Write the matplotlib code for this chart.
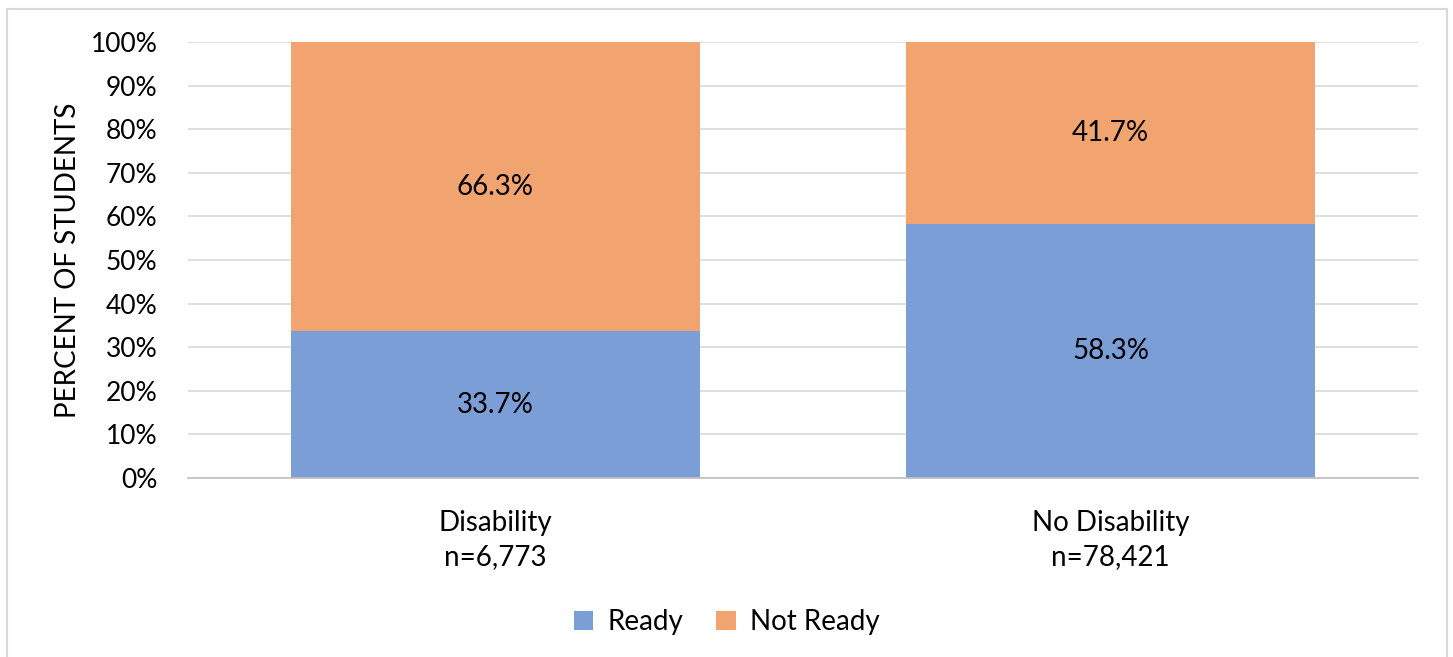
import matplotlib.pyplot as plt
from matplotlib.patches import Rectangle
import numpy as np

plt.rcParams['font.family'] = ['Lato', 'DejaVu Sans']

categories = ['Disability\nn=6,773', 'No Disability\nn=78,421']
ready = [33.7, 58.3]
not_ready = [66.3, 41.7]
blue = '#7B9ED7'
orange = '#F1A46F'
fs = 20

fig = plt.figure(figsize=(14.53, 6.57), dpi=100)
ax = fig.add_axes([188/1453, 1 - 478/657, 1230/1453, 436/657])

x = np.arange(len(categories))
ax.bar(x, ready, width=0.665, color=blue, label='Ready', zorder=2)
ax.bar(x, not_ready, width=0.665, bottom=ready, color=orange, label='Not Ready', zorder=2)

for i in range(len(categories)):
    ax.text(x[i], ready[i] / 2, f'{ready[i]:.1f}%', ha='center', va='center', fontsize=fs, zorder=3)
    ax.text(x[i], ready[i] + not_ready[i] / 2, f'{not_ready[i]:.1f}%', ha='center', va='center', fontsize=fs, zorder=3)

ax.set_xlim(-0.5, 1.5)
ax.set_ylim(0, 100)
ax.set_yticks(np.arange(0, 101, 10))
ax.set_yticklabels([f'{v}%' for v in range(0, 101, 10)])
ax.yaxis.grid(True, color='#D9D9D9', linewidth=1.2, zorder=0)
ax.set_axisbelow(True)
ax.set_xticks(x)
ax.set_xticklabels(categories, linespacing=1.4)
ax.tick_params(axis='both', length=0, labelsize=fs)
ax.tick_params(axis='y', pad=22, labelsize=19)
ax.tick_params(axis='x', pad=23)
for s in ['top', 'right', 'left']:
    ax.spines[s].set_visible(False)
ax.spines['bottom'].set_color('#BFBFBF')
ax.spines['bottom'].set_linewidth(1.2)
ax.set_ylabel('PERCENT OF STUDENTS', fontsize=fs, labelpad=7)

fig.legend(loc='center', bbox_to_anchor=(0.5, 1 - 622/657), ncol=2, frameon=False,
           fontsize=fs, handlelength=0.7, handleheight=0.7, columnspacing=1.2, handletextpad=0.5)

fig.patches.append(Rectangle((7/1453, -0.01), 1440/1453, 1 - 9/657 + 0.01, transform=fig.transFigure,
                             fill=False, edgecolor='#D9D9D9', linewidth=1.5))

fig.savefig('out.png', dpi=100)
